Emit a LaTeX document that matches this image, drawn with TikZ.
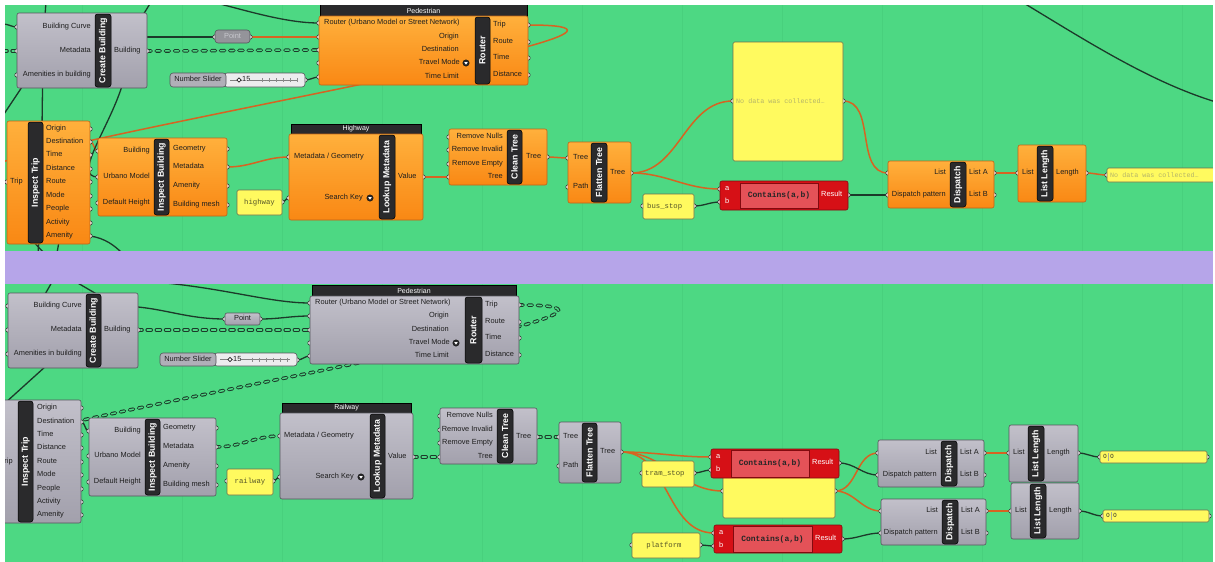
\documentclass[tikz,border=0pt]{standalone}
\usepackage{fontspec}
\setmainfont{Liberation Sans}
\newfontfamily\monof{Liberation Mono}
\usetikzlibrary{shapes.geometric}
\pgfdeclarelayer{bg}
\pgfdeclarelayer{wires}
\pgfdeclarelayer{band}
\pgfdeclarelayer{ports}
\pgfdeclarelayer{top}
\pgfsetlayers{bg,wires,band,ports,main,top}
\definecolor{bggreen}{RGB}{77,216,131}
\definecolor{gridg}{RGB}{72,208,125}
\definecolor{bandp}{RGB}{182,165,233}
\definecolor{orT}{RGB}{255,176,60}
\definecolor{orB}{RGB}{249,136,20}
\definecolor{orD}{RGB}{190,100,25}
\definecolor{grT}{RGB}{194,192,202}
\definecolor{grB}{RGB}{162,160,172}
\definecolor{grD}{RGB}{85,85,92}
\definecolor{barc}{RGB}{42,42,44}
\definecolor{wireD}{RGB}{28,58,42}
\definecolor{wireO}{RGB}{214,100,34}
\definecolor{panY}{RGB}{255,250,95}
\definecolor{panD}{RGB}{110,110,80}
\definecolor{panT}{RGB}{85,85,40}
\definecolor{panF}{RGB}{180,180,105}
\definecolor{redO}{RGB}{214,16,22}
\definecolor{redI}{RGB}{228,82,88}
\definecolor{redD}{RGB}{130,10,15}
\definecolor{txt}{RGB}{30,30,30}
\definecolor{ptfill}{RGB}{148,148,154}
\definecolor{ptlight}{RGB}{200,200,206}
\definecolor{slfill}{RGB}{236,236,238}
\definecolor{sllab}{RGB}{176,175,184}
\newcounter{tc}
\newcommand\gbx[6]{\node[#2,anchor=north west,minimum width={(#5)-(#3)},minimum height={(#6)-(#4)}] (#1) at (#3,#4) {};}
\newcommand\gbar[6]{\gbx{#1}{barbox}{#2}{#3}{#4}{#5}\node[bartext] (#1t) at (#1.center) {#6};}
\newcommand\glab[5][]{\stepcounter{tc}\node[lbl,anchor=#2,#1] (t\arabic{tc}) at (#3,#4) {#5};}
\newcommand\gport[3]{\coordinate (#1) at (#2,#3);\begin{pgfonlayer}{ports}\draw[port] (#2,#3) circle (2.2pt);\end{pgfonlayer}}
\newcommand\tmicon[3]{\node[circle,fill=barc,draw=black,line width=0.3pt,minimum size=6.5pt,inner sep=0pt] (#1) at (#2,#3) {};\fill[white] (#2-1.8,#3-1) -- (#2+1.8,#3-1) -- (#2,#3+1.7) -- cycle;}
\tikzset{
 obox/.style={draw=orD,line width=0.6pt,rounded corners=2pt,top color=orT,bottom color=orB,inner sep=0pt,outer sep=0pt},
 gbox/.style={draw=grD,line width=0.6pt,rounded corners=2pt,top color=grT,bottom color=grB,inner sep=0pt,outer sep=0pt},
 barbox/.style={draw=black,fill=barc,rounded corners=2.5pt,line width=0.5pt,inner sep=0pt,outer sep=0pt},
 bartext/.style={text=white,font=\bfseries\fontsize{8.8}{9}\selectfont,rotate=90,inner sep=0pt},
 lbl/.style={text=txt,font=\fontsize{7.4}{8}\selectfont,inner sep=0pt,text height=5.3pt,text depth=1.5pt},
 hdr/.style={fill=barc,draw=black,line width=0.4pt,inner sep=0pt,outer sep=0pt},
 hdrtext/.style={text=white,font=\fontsize{7}{8}\selectfont,inner sep=0pt},
 panel/.style={fill=panY,draw=panD,line width=0.6pt,rounded corners=1.5pt,inner sep=0pt,outer sep=0pt},
 ptext/.style={text=panT,font=\monof\fontsize{7.3}{8}\selectfont,inner sep=0pt},
 ftext/.style={text=panF,font=\monof\fontsize{6.7}{8}\selectfont,inner sep=0pt},
 redbox/.style={fill=redO,draw=redD,line width=0.6pt,rounded corners=2pt,inner sep=0pt,outer sep=0pt},
 redin/.style={fill=redI,draw=redD,line width=0.8pt,inner sep=0pt,outer sep=0pt},
 ctext/.style={text=black!85,font=\monof\bfseries\fontsize{8}{9}\selectfont,inner sep=0pt},
 rlbl/.style={text=white},
 ptbox/.style={fill=ptfill,draw=grD,line width=0.6pt,rounded corners=3pt,inner sep=0pt,outer sep=0pt},
 slbox/.style={fill=slfill,draw=grD,line width=0.6pt,rounded corners=3pt,inner sep=0pt,outer sep=0pt},
 sllbox/.style={fill=sllab,draw=grD,line width=0.6pt,rounded corners=3pt,inner sep=0pt,outer sep=0pt},
 port/.style={draw=black!80,fill=white,line width=0.6pt},
 dw/.style={draw=wireD,line width=1.3pt},
 ow/.style={draw=wireO,line width=1.5pt},
 tw/.style={draw=wireD,line width=3.6pt,line cap=round,dash pattern=on 4pt off 5.2pt,
   postaction={draw=bggreen,line width=1.5pt,line cap=round,dash pattern=on 4pt off 5.2pt}},
}
\begin{document}
\begin{tikzpicture}[x=1pt,y=-1pt]
\useasboundingbox (0,0) rectangle (1215,562);
\begin{pgfonlayer}{bg}
\fill[white] (0,0) rectangle (1215,562);
\fill[bggreen] (5,5) rectangle (1213,562);
\foreach \x in {82,182,...,1182} \draw[gridg,line width=0.4pt] (\x,5) -- (\x,562);
\end{pgfonlayer}
\begin{pgfonlayer}{band}
\fill[bandp] (5,251) rectangle (1213,284);
\end{pgfonlayer}
\begin{pgfonlayer}{top}
\fill[white] (0,0) rectangle (1215,5);
\fill[white] (0,0) rectangle (5,562);
\fill[white] (1213,0) rectangle (1215,562);
\end{pgfonlayer}

% ================= TOP GROUP =================
% Create Building
\gbx{cbT}{gbox}{17}{13}{147}{88}
\gbar{cbTb}{95}{14}{111}{87}{Create Building}
\glab{east}{91}{27}{Building Curve}
\glab{east}{91}{51}{Metadata}
\glab{east}{91}{75}{Amenities in building}
\glab{west}{114}{51}{Building}
\gport{cbTi1}{17}{27}\gport{cbTi2}{17}{51}\gport{cbTi3}{17}{75}\gport{cbTo}{147}{51}
% Point
\gbx{ptT}{ptbox}{215}{30}{250}{43}
\node[lbl,text=ptlight] (ptTt) at (ptT.center) {Point};
\gport{ptTi}{215}{37}\gport{ptTo}{250}{37}
% Number slider
\gbx{slT}{slbox}{224}{73}{305}{87}
\gbx{slTl}{sllbox}{170}{73}{226}{87}
\node[lbl] (slTt) at (slTl.center) {Number Slider};
\draw[black!50,line width=0.4pt] (230,80) -- (298,80);
\foreach \x in {262,269,...,297} \draw[black!45,line width=0.35pt] (\x,78) -- (\x,82);
\node[diamond,draw=black!85,fill=white,minimum size=4.5pt,inner sep=0pt,line width=0.6pt] (slTk) at (239,80) {};
\node[lbl,anchor=west,fill=slfill] (slTv) at (242,80) {15};
\gport{slTo}{305}{80}
% Router
\gbx{rtTh}{hdr}{320}{2}{527}{16}
\node[hdrtext] (rtTht) at (423.5,10.5) {Pedestrian};
\gbx{rtT}{obox}{319}{16}{528}{85}
\gbar{rtTb}{475}{17}{490}{84}{Router}
\glab{west}{324}{23}{Router (Urbano Model or Street Network)}
\glab{east}{459}{37}{Origin}
\glab{east}{459}{50}{Destination}
\glab{east}{460}{63}{Travel Mode}
\tmicon{rtTic}{466}{63}
\glab{east}{459}{77}{Time Limit}
\glab{west}{493}{25}{Trip}
\glab{west}{493}{42}{Route}
\glab{west}{493}{58}{Time}
\glab{west}{493}{75}{Distance}
\gport{rtTi1}{319}{23}\gport{rtTi2}{319}{37}\gport{rtTi3}{319}{50}\gport{rtTi4}{319}{63}\gport{rtTi5}{319}{77}
\gport{rtTo1}{528}{25}\gport{rtTo2}{528}{42}\gport{rtTo3}{528}{58}\gport{rtTo4}{528}{75}
% Inspect Trip
\gbx{itT}{obox}{7}{121}{90}{244}
\gbar{itTb}{28}{122}{43}{243}{Inspect Trip}
\glab{west}{10}{182}{Trip}
\glab{west}{46}{129}{Origin}
\glab{west}{46}{142}{Destination}
\glab{west}{46}{155}{Time}
\glab{west}{46}{169}{Distance}
\glab{west}{46}{182}{Route}
\glab{west}{46}{196}{Mode}
\glab{west}{46}{209}{People}
\glab{west}{46}{223}{Activity}
\glab{west}{46}{236}{Amenity}
\gport{itTi}{7}{182}
\gport{itTo1}{90}{129}\gport{itTo2}{90}{142}\gport{itTo3}{90}{155}\gport{itTo4}{90}{169}\gport{itTo5}{90}{182}
\gport{itTo6}{90}{196}\gport{itTo7}{90}{209}\gport{itTo8}{90}{223}\gport{itTo9}{90}{236}
% Inspect Building
\gbx{ibT}{obox}{98}{138}{227}{216}
\gbar{ibTb}{154}{139}{169}{215}{Inspect Building}
\glab{east}{150}{151}{Building}
\glab{east}{150}{177}{Urbano Model}
\glab{east}{150}{203}{Default Height}
\glab{west}{173}{149}{Geometry}
\glab{west}{173}{167}{Metadata}
\glab{west}{173}{186}{Amenity}
\glab{west}{173}{205}{Building mesh}
\gport{ibTi1}{98}{151}\gport{ibTi2}{98}{177}\gport{ibTi3}{98}{203}
\gport{ibTo1}{227}{149}\gport{ibTo2}{227}{167}\gport{ibTo3}{227}{186}\gport{ibTo4}{227}{205}
% highway panel
\gbx{hwT}{panel}{237}{190}{282}{215}
\node[ptext] (hwTt) at (hwT.center) {highway};
\gport{hwTo}{282}{202}
% Lookup Metadata
\gbx{lkTh}{hdr}{291}{124}{421}{134}
\node[hdrtext] (lkTht) at (lkTh.center) {Highway};
\gbx{lkT}{obox}{289}{134}{423}{220}
\gbar{lkTb}{379}{135}{395}{219}{Lookup Metadata}
\glab{west}{294}{157}{Metadata / Geometry}
\glab{east}{363}{198}{Search Key}
\tmicon{lkTic}{370}{198}
\glab{west}{398}{177}{Value}
\gport{lkTi1}{289}{157}\gport{lkTi2}{289}{198}\gport{lkTo}{423}{177}
% Clean Tree
\gbx{ctT}{obox}{449}{129}{547}{185}
\gbar{ctTb}{507}{130}{522}{184}{Clean Tree}
\glab{east}{503}{137}{Remove Nulls}
\glab{east}{503}{150}{Remove Invalid}
\glab{east}{503}{164}{Remove Empty}
\glab{east}{503}{177}{Tree}
\glab{west}{526}{157}{Tree}
\gport{ctTi1}{449}{137}\gport{ctTi2}{449}{150}\gport{ctTi3}{449}{164}\gport{ctTi4}{449}{177}\gport{ctTo}{547}{157}
% Flatten Tree
\gbx{flT}{obox}{568}{142}{631}{203}
\gbar{flTb}{591}{143}{607}{202}{Flatten Tree}
\glab{west}{573}{158}{Tree}
\glab{west}{573}{187}{Path}
\glab{west}{610}{173}{Tree}
\gport{flTi1}{568}{158}\gport{flTi2}{568}{187}\gport{flTo}{631}{173}
% big panel
\gbx{pnT}{panel}{733}{42}{843}{161}
\node[ftext,anchor=west] (pnTt) at (736,101) {No data was collected…};
\gport{pnTi}{733}{101}\gport{pnTo}{843}{101}
% Contains
\gbx{cnT}{redbox}{720}{181}{848}{210}
\gbx{cnTi}{redin}{740}{183}{818}{208}
\node[ctext] (cnTt) at (cnTi.center) {Contains(a,b)};
\glab[rlbl]{west}{725}{189}{a}
\glab[rlbl]{west}{725}{202}{b}
\glab[rlbl]{west}{821}{195}{Result}
\gport{cnTa}{720}{189}\gport{cnTb}{720}{202}\gport{cnTo}{848}{195}
% bus_stop
\gbx{bsT}{panel}{643}{194}{694}{219}
\node[ptext,anchor=west] (bsTt) at (647,206.5) {bus\_stop};
\gport{bsTi}{643}{206}\gport{bsTo}{694}{206}
% Dispatch
\gbx{dpT}{obox}{888}{161}{994}{208}
\gbar{dpTb}{950}{162}{966}{207}{Dispatch}
\glab{east}{946}{173}{List}
\glab{east}{946}{195}{Dispatch pattern}
\glab{west}{969}{173}{List A}
\glab{west}{969}{195}{List B}
\gport{dpTi1}{888}{173}\gport{dpTi2}{888}{195}\gport{dpTo1}{994}{173}\gport{dpTo2}{994}{195}
% List Length
\gbx{llT}{obox}{1018}{145}{1086}{202}
\gbar{llTb}{1037}{146}{1053}{201}{List Length}
\glab{west}{1022}{173}{List}
\glab{west}{1056}{173}{Length}
\gport{llTi}{1018}{173}\gport{llTo}{1086}{173}
% output panel
\gbx{opT}{panel}{1107}{168}{1222}{182}
\node[ftext,anchor=west] (opTt) at (1110,175) {No data was collected…};
\gport{opTi}{1107}{175}

% free wire ends (top)
\coordinate (fA) at (3,24);
\coordinate (fB) at (3,51);
\coordinate (fC) at (120,37);
\coordinate (fD) at (212,2);
\coordinate (fE1) at (46,2);
\coordinate (fE2) at (38,253);
\coordinate (fF1) at (151,2);
\coordinate (fF2) at (140,20);
\coordinate (fG) at (122,86);
\coordinate (fH) at (122,253);
\coordinate (fI1) at (60,236);
\coordinate (fI2) at (57,253);
\coordinate (fJ1) at (28,236);
\coordinate (fJ2) at (44,253);
\coordinate (fK1) at (24,84);
\coordinate (fK2) at (4,114);
\coordinate (fR1) at (1022,2);
\coordinate (fR2) at (1216,102);

% ================= BOTTOM GROUP =================
% Create Building
\gbx{cbB}{gbox}{8}{293}{138}{368}
\gbar{cbBb}{86}{294}{101}{367}{Create Building}
\glab{east}{82}{306}{Building Curve}
\glab{east}{82}{330}{Metadata}
\glab{east}{82}{354}{Amenities in building}
\glab{west}{104}{330}{Building}
\gport{cbBi1}{8}{306}\gport{cbBi2}{8}{330}\gport{cbBi3}{8}{354}\gport{cbBo}{138}{330}
% Point
\gbx{ptB}{gbox}{225}{313}{260}{325}
\node[lbl] (ptBt) at (ptB.center) {Point};
\gport{ptBi}{225}{319}\gport{ptBo}{260}{319}
% Number slider
\gbx{slB}{slbox}{214}{353}{297}{366}
\gbx{slBl}{sllbox}{160}{353}{216}{366}
\node[lbl] (slBt) at (slBl.center) {Number Slider};
\draw[black!50,line width=0.4pt] (220,359.5) -- (290,359.5);
\foreach \x in {252,259,...,289} \draw[black!45,line width=0.35pt] (\x,357.5) -- (\x,361.5);
\node[diamond,draw=black!85,fill=white,minimum size=4.5pt,inner sep=0pt,line width=0.6pt] (slBk) at (230,359.5) {};
\node[lbl,anchor=west,fill=slfill] (slBv) at (233,359.5) {15};
\gport{slBo}{297}{360}
% Router
\gbx{rtBh}{hdr}{312}{285}{516}{296}
\node[hdrtext] (rtBht) at (rtBh.center) {Pedestrian};
\gbx{rtB}{gbox}{310}{296}{519}{364}
\gbar{rtBb}{465}{297}{482}{363}{Router}
\glab{west}{315}{303}{Router (Urbano Model or Street Network)}
\glab{east}{449}{316}{Origin}
\glab{east}{449}{330}{Destination}
\glab{east}{450}{343}{Travel Mode}
\tmicon{rtBic}{456}{343}
\glab{east}{449}{356}{Time Limit}
\glab{west}{485}{305}{Trip}
\glab{west}{485}{322}{Route}
\glab{west}{485}{338}{Time}
\glab{west}{485}{355}{Distance}
\gport{rtBi1}{310}{303}\gport{rtBi2}{310}{316}\gport{rtBi3}{310}{330}\gport{rtBi4}{310}{343}\gport{rtBi5}{310}{356}
\gport{rtBo1}{519}{305}\gport{rtBo2}{519}{322}\gport{rtBo3}{519}{338}\gport{rtBo4}{519}{355}
% Inspect Trip
\gbx{itB}{gbox}{-3}{400}{81}{523}
\gbar{itBb}{18}{401}{33}{522}{Inspect Trip}
\glab{west}{0}{462}{Trip}
\glab{west}{37}{408}{Origin}
\glab{west}{37}{422}{Destination}
\glab{west}{37}{435}{Time}
\glab{west}{37}{448}{Distance}
\glab{west}{37}{462}{Route}
\glab{west}{37}{475}{Mode}
\glab{west}{37}{489}{People}
\glab{west}{37}{502}{Activity}
\glab{west}{37}{515}{Amenity}
\coordinate (itBi) at (-3,462);
\gport{itBo1}{81}{408}\gport{itBo2}{81}{422}\gport{itBo3}{81}{435}\gport{itBo4}{81}{448}\gport{itBo5}{81}{462}
\gport{itBo6}{81}{475}\gport{itBo7}{81}{489}\gport{itBo8}{81}{502}\gport{itBo9}{81}{515}
% Inspect Building
\gbx{ibB}{gbox}{89}{418}{216}{496}
\gbar{ibBb}{145}{419}{160}{495}{Inspect Building}
\glab{east}{141}{431}{Building}
\glab{east}{141}{456}{Urbano Model}
\glab{east}{141}{482}{Default Height}
\glab{west}{163}{428}{Geometry}
\glab{west}{163}{447}{Metadata}
\glab{west}{163}{466}{Amenity}
\glab{west}{163}{485}{Building mesh}
\gport{ibBi1}{89}{431}\gport{ibBi2}{89}{456}\gport{ibBi3}{89}{482}
\gport{ibBo1}{216}{428}\gport{ibBo2}{216}{447}\gport{ibBo3}{216}{466}\gport{ibBo4}{216}{485}
% railway panel
\gbx{rwB}{panel}{227}{469}{273}{495}
\node[ptext] (rwBt) at (rwB.center) {railway};
\gport{rwBi}{227}{481}\gport{rwBo}{273}{481}
% Lookup Metadata
\gbx{lkBh}{hdr}{282}{403}{411}{413}
\node[hdrtext] (lkBht) at (lkBh.center) {Railway};
\gbx{lkB}{gbox}{280}{413}{413}{499}
\gbar{lkBb}{370}{414}{385}{498}{Lookup Metadata}
\glab{west}{284}{436}{Metadata / Geometry}
\glab{east}{354}{477}{Search Key}
\tmicon{lkBic}{361}{477}
\glab{west}{388}{457}{Value}
\gport{lkBi1}{280}{436}\gport{lkBi2}{280}{477}\gport{lkBo}{413}{457}
% Clean Tree
\gbx{ctB}{gbox}{440}{408}{537}{464}
\gbar{ctBb}{497}{409}{513}{463}{Clean Tree}
\glab{east}{493}{416}{Remove Nulls}
\glab{east}{493}{430}{Remove Invalid}
\glab{east}{493}{443}{Remove Empty}
\glab{east}{493}{457}{Tree}
\glab{west}{516}{437}{Tree}
\gport{ctBi1}{440}{416}\gport{ctBi2}{440}{430}\gport{ctBi3}{440}{443}\gport{ctBi4}{440}{457}\gport{ctBo}{537}{437}
% Flatten Tree
\gbx{flB}{gbox}{559}{422}{621}{483}
\gbar{flBb}{582}{423}{597}{482}{Flatten Tree}
\glab{west}{563}{437}{Tree}
\glab{west}{563}{466}{Path}
\glab{west}{600}{452}{Tree}
\gport{flBi1}{559}{437}\gport{flBi2}{559}{466}\gport{flBo}{621}{452}
% empty panel
\gbx{peB}{panel}{723}{476}{835}{518}
\gport{peBi}{723}{491}\gport{peBo}{835}{491}
% Contains 1
\gbx{cnB1}{redbox}{711}{449}{839}{478}
\gbx{cnB1i}{redin}{731}{450}{809}{477}
\node[ctext] (cnB1t) at (cnB1i.center) {Contains(a,b)};
\glab[rlbl]{west}{716}{457}{a}
\glab[rlbl]{west}{716}{470}{b}
\glab[rlbl]{west}{812}{463}{Result}
\gport{cnB1a}{711}{457}\gport{cnB1b}{711}{470}\gport{cnB1o}{839}{463}
% tram_stop
\gbx{tsB}{panel}{642}{461}{694}{487}
\node[ptext,anchor=west] (tsBt) at (645,474) {tram\_stop};
\gport{tsBi}{642}{473}\gport{tsBo}{694}{473}
% Contains 2
\gbx{cnB2}{redbox}{714}{525}{842}{553}
\gbx{cnB2i}{redin}{733}{526}{812}{552}
\node[ctext] (cnB2t) at (cnB2i.center) {Contains(a,b)};
\glab[rlbl]{west}{719}{533}{a}
\glab[rlbl]{west}{719}{546}{b}
\glab[rlbl]{west}{815}{539}{Result}
\gport{cnB2a}{714}{533}\gport{cnB2b}{714}{546}\gport{cnB2o}{842}{539}
% platform
\gbx{plB}{panel}{632}{533}{700}{558}
\node[ptext] (plBt) at (664,545.5) {platform};
\gport{plBi}{632}{545}\gport{plBo}{700}{545}
% Dispatch 1
\gbx{dpB1}{gbox}{878}{440}{984}{487}
\gbar{dpB1b}{941}{441}{957}{486}{Dispatch}
\glab{east}{937}{453}{List}
\glab{east}{937}{475}{Dispatch pattern}
\glab{west}{960}{453}{List A}
\glab{west}{960}{475}{List B}
\gport{dpB1i1}{878}{453}\gport{dpB1i2}{878}{475}\gport{dpB1o1}{984}{453}\gport{dpB1o2}{984}{475}
% Dispatch 2
\gbx{dpB2}{gbox}{881}{499}{986}{545}
\gbar{dpB2b}{942}{500}{958}{544}{Dispatch}
\glab{east}{938}{511}{List}
\glab{east}{938}{533}{Dispatch pattern}
\glab{west}{961}{511}{List A}
\glab{west}{961}{533}{List B}
\gport{dpB2i1}{881}{511}\gport{dpB2i2}{881}{533}\gport{dpB2o1}{986}{511}\gport{dpB2o2}{986}{533}
% List Length 1
\gbx{llB1}{gbox}{1009}{425}{1078}{482}
\gbar{llB1b}{1028}{426}{1044}{481}{List Length}
\glab{west}{1013}{453}{List}
\glab{west}{1047}{453}{Length}
\gport{llB1i}{1009}{453}\gport{llB1o}{1078}{453}
% List Length 2
\gbx{llB2}{gbox}{1011}{483}{1079}{539}
\gbar{llB2b}{1030}{484}{1046}{538}{List Length}
\glab{west}{1015}{511}{List}
\glab{west}{1049}{511}{Length}
\gport{llB2i}{1011}{511}\gport{llB2o}{1079}{511}
% output panels
\gbx{opB1}{panel}{1100}{451}{1207}{463}
\glab[font=\fontsize{6}{7}\selectfont]{center}{1105}{457}{0}
\draw[panD!60,line width=0.4pt] (1108.5,453) -- (1108.5,461);
\glab[font=\fontsize{6}{7}\selectfont]{center}{1112}{457}{0}
\gport{opB1i}{1100}{457}\gport{opB1o}{1207}{457}
\gbx{opB2}{panel}{1103}{510}{1209}{522}
\glab[font=\fontsize{6}{7}\selectfont]{center}{1108}{516}{0}
\draw[panD!60,line width=0.4pt] (1111.5,512) -- (1111.5,520);
\glab[font=\fontsize{6}{7}\selectfont]{center}{1115}{516}{0}
\gport{opB2i}{1103}{516}\gport{opB2o}{1209}{516}

% free wire ends (bottom)
\coordinate (gA1) at (52,282);
\coordinate (gA2) at (44,296);
\coordinate (gB1) at (76,282);
\coordinate (gB2) at (100,296);
\coordinate (gC) at (155,282);
\coordinate (gD) at (118,306);
\coordinate (gE1) at (46,366);
\coordinate (gE2) at (4,404);

% ================= WIRES =================
\begin{pgfonlayer}{wires}
% top
\draw[dw] (fA) to[out=0,in=180] (cbTi1);
\draw[tw] (fB) -- (cbTi2);
\draw[dw] (fE1) .. controls (40,80) and (44,180) .. (fE2);
\draw[dw] (fF1) -- (fF2);
\draw[dw] (fK1) -- (fK2);
\draw[dw] (fC) to[out=0,in=180] (ptTi);
\draw[ow] (ptTo) to[out=0,in=180] (rtTi2);
\draw[tw] (cbTo) to[out=0,in=180] (rtTi3);
\draw[dw] (slTo) to[out=0,in=180] (rtTi5);
\draw[dw] (fD) .. controls (245,10) and (285,23) .. (rtTi1);
\draw[ow] (rtTo1) to[out=0,in=180,looseness=1.17] (itTi);
\draw[ow] (itTo2) to[out=0,in=180] (ibTi1);
\draw[dw] (fG) .. controls (108,130) and (72,177) .. (ibTi2);
\draw[dw] (itTo9) .. controls (105,238) and (115,246) .. (fH);
\draw[dw] (fI1) -- (fI2);
\draw[dw] (fJ1) -- (fJ2);
\draw[ow] (ibTo2) to[out=0,in=180] (lkTi1);
\draw[dw] (hwTo) to[out=0,in=180] (lkTi2);
\draw[ow] (lkTo) to[out=0,in=180] (ctTi4);
\draw[ow] (ctTo) to[out=0,in=180] (flTi1);
\draw[ow] (flTo) to[out=0,in=180] (pnTi);
\draw[ow] (flTo) to[out=0,in=180] (cnTa);
\draw[dw] (bsTo) to[out=0,in=180] (cnTb);
\draw[ow] (pnTo) to[out=0,in=180] (dpTi1);
\draw[dw] (cnTo) to[out=0,in=180] (dpTi2);
\draw[ow] (dpTo1) to[out=0,in=180] (llTi);
\draw[ow] (llTo) to[out=0,in=180] (opTi);
\draw[dw] (fR1) .. controls (1085,40) and (1150,82) .. (fR2);
% bottom
\draw[dw] (gA1) -- (gA2);
\draw[dw] (gB1) -- (gB2);
\draw[dw] (gC) .. controls (225,288) and (270,303) .. (rtBi1);
\draw[dw] (gD) to[out=0,in=180] (ptBi);
\draw[dw] (gE1) -- (gE2);
\draw[dw] (ptBo) to[out=0,in=180] (rtBi2);
\draw[tw] (cbBo) to[out=0,in=180] (rtBi3);
\draw[dw] (slBo) to[out=0,in=180] (rtBi5);
\draw[tw] (rtBo1) to[out=0,in=180,looseness=1.17] (itBi);
\draw[dw] (itBo2) to[out=0,in=180] (ibBi1);
\draw[tw] (ibBo2) to[out=0,in=180] (lkBi1);
\draw[dw] (rwBo) to[out=0,in=180] (lkBi2);
\draw[tw] (lkBo) to[out=0,in=180] (ctBi4);
\draw[tw] (ctBo) to[out=0,in=180] (flBi1);
\draw[ow] (flBo) to[out=0,in=180] (cnB1a);
\draw[ow] (flBo) to[out=0,in=180] (peBi);
\draw[ow] (flBo) to[out=0,in=180] (cnB2a);
\draw[dw] (tsBo) to[out=0,in=180] (cnB1b);
\draw[dw] (plBo) to[out=0,in=180] (cnB2b);
\draw[ow] (peBo) to[out=0,in=180] (dpB1i1);
\draw[ow] (peBo) to[out=0,in=180] (dpB2i1);
\draw[dw] (cnB1o) to[out=0,in=180] (dpB1i2);
\draw[dw] (cnB2o) to[out=0,in=180] (dpB2i2);
\draw[ow] (dpB1o1) to[out=0,in=180] (llB1i);
\draw[ow] (dpB2o1) to[out=0,in=180] (llB2i);
\draw[dw] (llB1o) to[out=0,in=180] (opB1i);
\draw[dw] (llB2o) to[out=0,in=180] (opB2i);
\end{pgfonlayer}
\end{tikzpicture}
\end{document}
